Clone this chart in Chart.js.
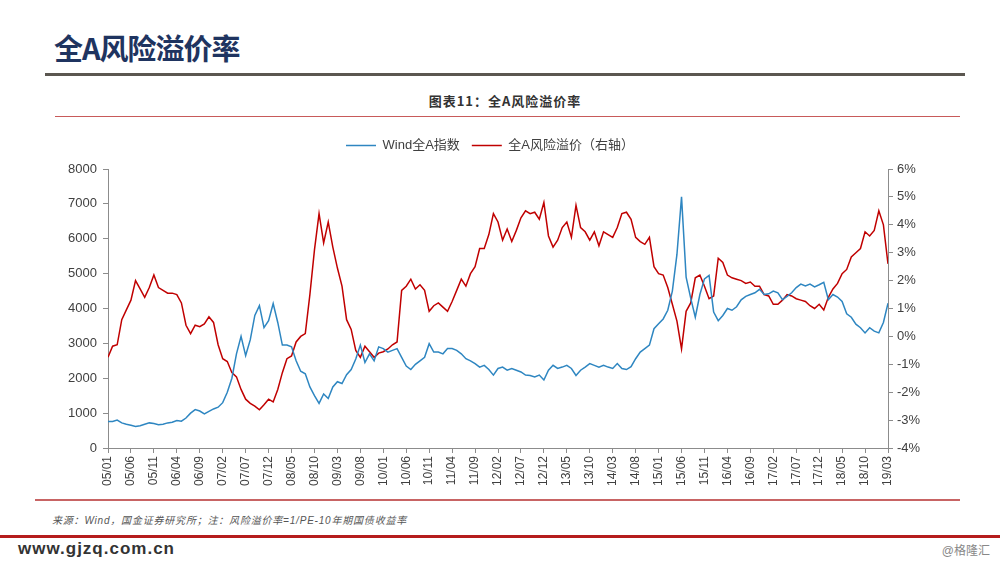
<!DOCTYPE html>
<html>
<head>
<meta charset="utf-8">
<script src="https://cdn.jsdelivr.net/npm/chart.js@4/dist/chart.umd.min.js"></script>
<style>
    body { margin: 0; width: 1000px; height: 563px; background: #fff; position: relative; overflow: hidden;
           font-family: "Liberation Sans", "Noto Sans CJK SC", sans-serif; }
    .abs { position: absolute; }
    #pageTitle { left: 54px; top: 26px; font-size: 29px; font-weight: bold; color: #1f3460; letter-spacing: -1px;
                 font-family: "Noto Sans CJK SC", sans-serif; }
    #chartTitle { left: 0; width: 1010px; top: 91px; text-align: center; font-size: 13px; font-weight: bold; color: #333;
                  letter-spacing: 1px; font-family: "Noto Sans CJK SC", serif; }
    #source { left: 52px; top: 512px; font-size: 10px; font-style: italic; color: #555; letter-spacing: 0.8px; }
    #site { left: 18px; top: 539px; font-size: 17px; font-weight: bold; color: #333; letter-spacing: 1px; }
    #credit { right: 10px; top: 541px; font-size: 12px; color: #888; }
    #chartBox { left: 40px; top: 125px; width: 900px; height: 375px; }
</style>
</head>
<body>
<div class="abs" id="pageTitle">全A风险溢价率</div>
<div class="abs" style="left:45px;top:73px;width:920px;height:3px;background:#5b5750"></div>
<div class="abs" id="chartTitle">图表11：全A风险溢价率</div>
<div class="abs" style="left:55px;top:116px;width:905px;height:1px;background:#c85a5a"></div>
<div class="abs" id="chartBox"><canvas id="chart"></canvas></div>
<div class="abs" style="left:35px;top:499px;width:925px;height:2px;background:#c86464"></div>
<div class="abs" id="source">来源：Wind，国金证券研究所；注：风险溢价率=1/PE-10年期国债收益率</div>
<div class="abs" style="left:0;top:535px;width:1000px;height:3px;background:#b51c1c"></div>
<div class="abs" id="site">www.gjzq.com.cn</div>
<div class="abs" id="credit">@格隆汇</div>

<script>
// x tick labels, one every 5 months starting 2005/01
const tickLabels = ['05/01', '05/06', '05/11', '06/04', '06/09', '07/02', '07/07', '07/12', '08/05', '08/10',
    '09/03', '09/08', '10/01', '10/06', '10/11', '11/04', '11/09', '12/02', '12/07', '12/12',
    '13/05', '13/10', '14/03', '14/08', '15/01', '15/06', '15/11', '16/04', '16/09', '17/02',
    '17/07', '17/12', '18/05', '18/10', '19/03'];

// Wind全A指数, monthly 2005/01 - 2019/03
const windA = [
    760, 760, 800, 720, 680, 650, 620, 640, 680, 720, 700, 670,
    680, 720, 740, 790, 770, 860, 1000, 1100, 1060, 980, 1050, 1120,
    1170, 1300, 1600, 2000, 2700, 3200, 2650, 3100, 3800, 4080, 3450, 3650,
    4140, 3600, 2950, 2950, 2900, 2500, 2200, 2130, 1750, 1500, 1280, 1550,
    1420, 1750, 1900, 1850, 2100, 2250, 2550, 2950, 2450, 2700, 2500, 2900,
    2850, 2750, 2800, 2850, 2600, 2350, 2250, 2400, 2500, 2600, 2990, 2750,
    2750, 2700, 2850, 2850, 2800, 2700, 2560, 2500, 2420, 2320, 2370, 2250,
    2090, 2280, 2320, 2230, 2280, 2230, 2180, 2090, 2080, 2040, 2090, 1950,
    2230, 2370, 2280, 2320, 2370, 2280, 2080, 2230, 2320, 2420, 2370, 2320,
    2370, 2320, 2280, 2420, 2280, 2250, 2330, 2560, 2750, 2850, 2950, 3420,
    3560, 3700, 3950, 4500, 5550, 7200, 4900, 4300, 3750, 4400, 4850, 4950,
    3900, 3650, 3800, 4000, 3950, 4050, 4250, 4350, 4400, 4450, 4550, 4400,
    4420, 4500, 4450, 4250, 4350, 4450, 4600, 4700, 4650, 4700, 4620, 4680,
    4750, 4250, 4400, 4330, 4200, 3850, 3750, 3550, 3450, 3300, 3450, 3350,
    3300, 3600, 4150
];

// 全A风险溢价 (%), right axis
const riskPremium = [
    -0.75, -0.35, -0.3, 0.6, 0.95, 1.3, 2.0, 1.7, 1.4, 1.75, 2.2, 1.75,
    1.65, 1.55, 1.55, 1.5, 1.2, 0.4, 0.1, 0.4, 0.35, 0.45, 0.7, 0.5,
    -0.3, -0.8, -0.9, -1.3, -1.45, -1.9, -2.25, -2.4, -2.5, -2.63, -2.45, -2.25,
    -2.35, -1.9, -1.3, -0.8, -0.7, -0.2, 0.0, 0.1, 1.5, 3.1, 4.4, 3.35,
    4.1, 3.2, 2.45, 1.8, 0.6, 0.25, -0.5, -0.75, -0.35, -0.55, -0.75, -0.6,
    -0.55, -0.45, -0.3, -0.2, 1.65, 1.8, 2.05, 1.7, 1.85, 1.65, 0.9, 1.1,
    1.2, 1.05, 0.9, 1.25, 1.65, 2.05, 1.8, 2.25, 2.5, 3.15, 3.15, 3.65,
    4.4, 4.1, 3.45, 3.85, 3.4, 3.8, 4.25, 4.5, 4.4, 4.45, 4.2, 4.8,
    3.6, 3.2, 3.45, 3.9, 4.1, 3.55, 4.7, 3.9, 3.75, 3.45, 3.75, 3.25,
    3.75, 3.65, 3.55, 3.9, 4.4, 4.45, 4.2, 3.55, 3.4, 3.3, 3.55, 2.5,
    2.25, 2.2, 1.75, 1.15, 0.55, -0.45, 0.9, 1.2, 2.1, 2.2, 1.8, 1.35,
    1.45, 2.8, 2.65, 2.2, 2.1, 2.05, 2.0, 1.9, 1.95, 1.8, 1.8, 1.5,
    1.45, 1.15, 1.15, 1.3, 1.5, 1.45, 1.35, 1.3, 1.25, 1.1, 1.0, 1.15,
    0.95, 1.4, 1.7, 1.9, 2.25, 2.4, 2.85, 3.0, 3.15, 3.75, 3.6, 3.8,
    4.5, 4.0, 2.6
];

const blue = '#2e86c1';
const red = '#c00000';
const axisGrey = '#8c8c8c';

Chart.defaults.font.family = '"Liberation Sans", "Noto Sans CJK SC", sans-serif';
Chart.defaults.color = '#404040';

const toPoints = arr => arr.map((v, i) => ({ x: i, y: v }));

// push the plot down a bit below the legend
const legendGap = {
    id: 'legendGap',
    beforeInit(chart) {
        const fit = chart.legend.fit;
        chart.legend.fit = function () {
            fit.bind(chart.legend)();
            this.height += 7;
        };
    }
};

new Chart(document.getElementById('chart'), {
    type: 'line',
    data: {
        datasets: [
            {
                label: 'Wind全A指数',
                data: toPoints(windA),
                borderColor: blue,
                backgroundColor: blue,
                borderWidth: 1.5,
                pointRadius: 0,
                tension: 0,
                yAxisID: 'y'
            },
            {
                label: '全A风险溢价（右轴）',
                data: toPoints(riskPremium),
                borderColor: red,
                backgroundColor: red,
                borderWidth: 1.5,
                pointRadius: 0,
                tension: 0,
                yAxisID: 'y1'
            }
        ]
    },
    plugins: [legendGap],
    options: {
        responsive: true,
        maintainAspectRatio: false,
        animation: false,
        layout: { padding: { top: 2, right: 0, bottom: 0, left: 0 } },
        plugins: {
            tooltip: { enabled: false },
            legend: {
                position: 'top',
                labels: {
                    usePointStyle: true,
                    pointStyle: 'line',
                    pointStyleWidth: 30,
                    boxHeight: 1,
                    boxWidth: 30,
                    padding: 12,
                    color: '#404040',
                    font: { size: 13 }
                }
            }
        },
        scales: {
            x: {
                type: 'linear',
                min: 0,
                max: 170,
                afterFit: s => { s.height = 52; },
                afterBuildTicks: s => {
                    s.ticks = tickLabels.map((t, i) => ({ value: i * 5 }));
                },
                ticks: {
                    autoSkip: false,
                    maxRotation: 90,
                    minRotation: 90,
                    padding: 3,
                    font: { size: 12 },
                    callback: v => tickLabels[v / 5]
                },
                grid: { drawOnChartArea: false, drawTicks: true, tickLength: 5, color: axisGrey },
                border: { color: axisGrey, width: 1 }
            },
            y: {
                position: 'left',
                min: 0,
                max: 8000,
                afterFit: s => { s.width = 68; },
                ticks: { stepSize: 1000, padding: 6, font: { size: 13 }, callback: v => String(v) },
                grid: { drawOnChartArea: false, drawTicks: true, tickLength: 5, color: axisGrey },
                border: { color: axisGrey, width: 1 }
            },
            y1: {
                position: 'right',
                min: -4,
                max: 6,
                afterFit: s => { s.width = 52; },
                ticks: { stepSize: 1, padding: 4, font: { size: 13 }, callback: v => v + '%' },
                grid: { drawOnChartArea: false, drawTicks: true, tickLength: 5, color: axisGrey },
                border: { color: axisGrey, width: 1 }
            }
        }
    }
});
</script>
</body>
</html>
